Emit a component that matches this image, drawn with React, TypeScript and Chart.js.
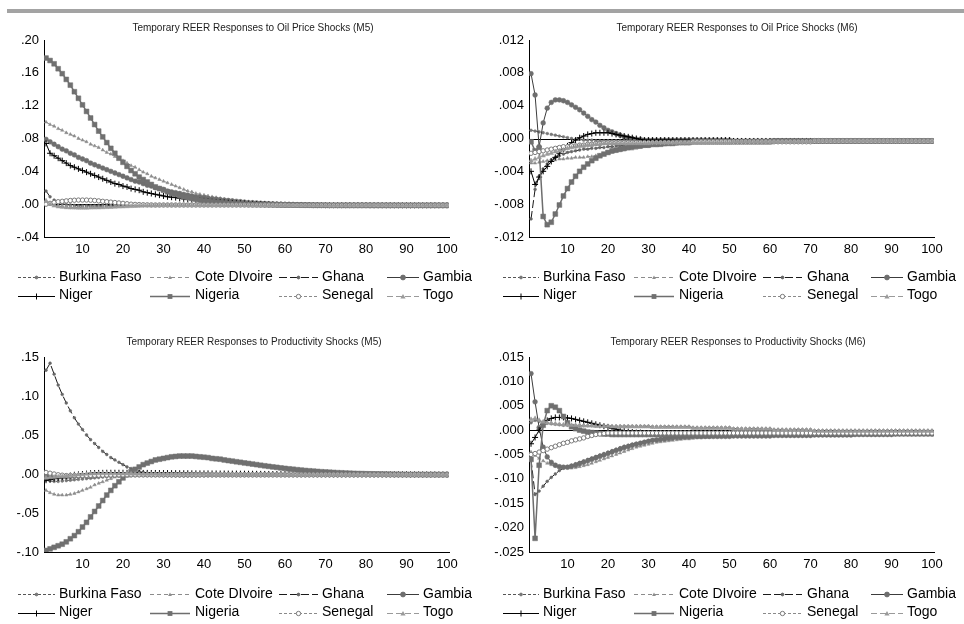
import React, { useEffect, useRef } from 'react';
import { Chart, registerables } from 'chart.js';

Chart.register(...registerables);

const FONT = 'Arial, "Liberation Sans", Helvetica, sans-serif';

const SERIES_NAMES = ['Burkina Faso', 'Cote DIvoire', 'Ghana', 'Gambia', 'Niger', 'Nigeria', 'Senegal', 'Togo'];
const X_TICKS = [10, 20, 30, 40, 50, 60, 70, 80, 90, 100];
const Y_TICKS_OIL_M5 = [-0.04, 0, 0.04, 0.08, 0.12, 0.16, 0.2];
const Y_TICKS_OIL_M6 = [-0.012, -0.008, -0.004, 0, 0.004, 0.008, 0.012];
const Y_TICKS_PROD_M5 = [-0.1, -0.05, 0, 0.05, 0.1, 0.15];
const Y_TICKS_PROD_M6 = [-0.025, -0.02, -0.015, -0.01, -0.005, 0, 0.005, 0.01, 0.015];

// ---------- Oil price shocks (M5) ----------
const OIL_M5_BURKINA = [
  .003, .001, -.001, -.002, -.003, -.0035, -.004, -.004, -.004, -.004,
  -.004, -.0038, -.0036, -.0034, -.0032, -.003, -.0028, -.0026, -.0024, -.0022,
  -.002, -.0019, -.0018, -.0017, -.0016, -.0015, -.0015, -.0014, -.0014, -.0014,
  -.0014, -.0014, -.0014, -.0014, -.0014, -.0014, -.0014, -.0014, -.0014, -.0014,
  -.0014, -.0014, -.0014, -.0014, -.0014, -.0014, -.0014, -.0014, -.0014, -.0014,
  -.0014, -.0014, -.0014, -.0014, -.0014, -.0014, -.0014, -.0014, -.0014, -.0014,
  -.0014, -.0014, -.0014, -.0014, -.0014, -.0014, -.0014, -.0014, -.0014, -.0014,
  -.0014, -.0014, -.0014, -.0014, -.0014, -.0014, -.0014, -.0014, -.0014, -.0014,
  -.0014, -.0014, -.0014, -.0014, -.0014, -.0014, -.0014, -.0014, -.0014, -.0014,
  -.0014, -.0014, -.0014, -.0014, -.0014, -.0014, -.0014, -.0014, -.0014, -.0014,
];
const OIL_M5_COTE = [
  .100, .097, .095, .092, .090, .087, .085, .083, .080, .078,
  .076, .073, .071, .069, .066, .063, .061, .058, .055, .053,
  .050, .047, .045, .042, .039, .037, .034, .032, .030, .028,
  .026, .024, .022, .020, .018, .016, .015, .013, .012, .011,
  .010, .009, .008, .007, .006, .005, .0045, .004, .0035, .003,
  .0025, .002, .0016, .0012, .0008, .0005, .0002, 0, -.0002, -.0004,
  -.0005, -.0006, -.0007, -.0008, -.0009, -.001, -.001, -.0011, -.0011, -.0012,
  -.0012, -.0012, -.0012, -.0012, -.0012, -.0013, -.0013, -.0013, -.0013, -.0013,
  -.0013, -.0013, -.0013, -.0013, -.0013, -.0014, -.0014, -.0014, -.0014, -.0014,
  -.0014, -.0014, -.0014, -.0014, -.0014, -.0014, -.0014, -.0014, -.0014, -.0014,
];
const OIL_M5_GHANA = [
  .016, .009, .005, .002, .0005, -.0005, -.001, -.0015, -.002, -.002,
  -.002, -.002, -.002, -.0019, -.0018, -.0017, -.0016, -.0015, -.0014, -.0013,
  -.0012, -.0011, -.001, -.001, -.0009, -.0009, -.0008, -.0008, -.0008, -.0008,
  -.0008, -.0008, -.0008, -.0008, -.0008, -.0008, -.0008, -.0008, -.0008, -.0008,
  -.0009, -.0009, -.0009, -.0009, -.0009, -.0009, -.0009, -.0009, -.0009, -.0009,
  -.001, -.001, -.001, -.001, -.001, -.001, -.001, -.001, -.001, -.001,
  -.0011, -.0011, -.0011, -.0011, -.0011, -.0011, -.0011, -.0011, -.0011, -.0011,
  -.0012, -.0012, -.0012, -.0012, -.0012, -.0012, -.0012, -.0012, -.0012, -.0012,
  -.0013, -.0013, -.0013, -.0013, -.0013, -.0013, -.0013, -.0013, -.0013, -.0013,
  -.0014, -.0014, -.0014, -.0014, -.0014, -.0014, -.0014, -.0014, -.0014, -.0014,
];
const OIL_M5_GAMBIA = [
  .079, .076, .073, .070, .067, .065, .062, .060, .057, .055,
  .053, .050, .048, .046, .044, .042, .040, .038, .036, .034,
  .032, .030, .028, .027, .025, .023, .022, .020, .019, .018,
  .016, .015, .014, .013, .012, .011, .010, .009, .0085, .008,
  .007, .0065, .006, .0055, .005, .0045, .004, .0035, .003, .0025,
  .002, .0017, .0014, .0011, .0008, .0005, .0003, .0001, -.0001, -.0003,
  -.0004, -.0005, -.0006, -.0007, -.0008, -.0009, -.001, -.001, -.0011, -.0011,
  -.0012, -.0012, -.0012, -.0012, -.0012, -.0012, -.0012, -.0012, -.0012, -.0012,
  -.0013, -.0013, -.0013, -.0013, -.0013, -.0013, -.0013, -.0013, -.0013, -.0013,
  -.0014, -.0014, -.0014, -.0014, -.0014, -.0014, -.0014, -.0014, -.0014, -.0014,
];
const OIL_M5_NIGER = [
  .074, .062, .059, .056, .053, .050, .047, .045, .043, .041,
  .039, .037, .035, .033, .031, .029, .027, .025, .024, .022,
  .021, .019, .018, .017, .015, .014, .013, .012, .011, .010,
  .009, .0085, .008, .007, .0065, .006, .0055, .005, .0045, .004,
  .0035, .003, .0027, .0024, .0021, .0018, .0015, .0012, .001, .0008,
  .0006, .0004, .0002, 0, -.0002, -.0003, -.0004, -.0005, -.0006, -.0007,
  -.0008, -.0009, -.001, -.001, -.0011, -.0011, -.0012, -.0012, -.0012, -.0013,
  -.0013, -.0013, -.0013, -.0013, -.0013, -.0013, -.0013, -.0013, -.0013, -.0013,
  -.0014, -.0014, -.0014, -.0014, -.0014, -.0014, -.0014, -.0014, -.0014, -.0014,
  -.0014, -.0014, -.0014, -.0014, -.0014, -.0014, -.0014, -.0014, -.0014, -.0014,
];
const OIL_M5_NIGERIA = [
  .178, .175, .171, .165, .159, .152, .145, .137, .129, .121,
  .113, .105, .097, .089, .082, .075, .068, .062, .056, .051,
  .046, .041, .037, .033, .030, .027, .024, .021, .019, .017,
  .015, .013, .012, .010, .009, .008, .007, .006, .005, .004,
  .0035, .003, .0025, .002, .0015, .001, .0008, .0005, .0003, .0001,
  0, -.0002, -.0003, -.0004, -.0005, -.0006, -.0007, -.0008, -.0009, -.001,
  -.001, -.0011, -.0011, -.0012, -.0012, -.0012, -.0013, -.0013, -.0013, -.0013,
  -.0014, -.0014, -.0014, -.0014, -.0014, -.0014, -.0014, -.0014, -.0014, -.0014,
  -.0014, -.0014, -.0014, -.0014, -.0014, -.0014, -.0014, -.0014, -.0014, -.0014,
  -.0014, -.0014, -.0014, -.0014, -.0014, -.0014, -.0014, -.0014, -.0014, -.0014,
];
const OIL_M5_SENEGAL = [
  0, .001, .002, .003, .0035, .004, .0045, .0048, .005, .005,
  .005, .0048, .0045, .004, .0035, .003, .0025, .002, .0015, .001,
  .0005, 0, -.0003, -.0005, -.0007, -.0008, -.0009, -.001, -.001, -.001,
  -.001, -.001, -.001, -.001, -.001, -.001, -.001, -.001, -.001, -.001,
  -.001, -.001, -.001, -.001, -.001, -.001, -.001, -.001, -.001, -.001,
  -.0011, -.0011, -.0011, -.0011, -.0011, -.0011, -.0011, -.0011, -.0011, -.0011,
  -.0012, -.0012, -.0012, -.0012, -.0012, -.0012, -.0012, -.0012, -.0012, -.0012,
  -.0013, -.0013, -.0013, -.0013, -.0013, -.0013, -.0013, -.0013, -.0013, -.0013,
  -.0014, -.0014, -.0014, -.0014, -.0014, -.0014, -.0014, -.0014, -.0014, -.0014,
  -.0014, -.0014, -.0014, -.0014, -.0014, -.0014, -.0014, -.0014, -.0014, -.0014,
];
const OIL_M5_TOGO = [
  .004, 0, -.002, -.003, -.0035, -.004, -.0042, -.0044, -.0045, -.0045,
  -.0045, -.0044, -.0043, -.0042, -.004, -.0038, -.0036, -.0034, -.0032, -.003,
  -.0028, -.0026, -.0024, -.0022, -.002, -.0019, -.0018, -.0017, -.0016, -.0015,
  -.0015, -.0015, -.0015, -.0015, -.0015, -.0015, -.0015, -.0015, -.0015, -.0015,
  -.0015, -.0015, -.0015, -.0015, -.0015, -.0015, -.0015, -.0015, -.0015, -.0015,
  -.0015, -.0015, -.0015, -.0015, -.0015, -.0015, -.0015, -.0015, -.0015, -.0015,
  -.0015, -.0015, -.0015, -.0015, -.0015, -.0015, -.0015, -.0015, -.0015, -.0015,
  -.0015, -.0015, -.0015, -.0015, -.0015, -.0015, -.0015, -.0015, -.0015, -.0015,
  -.0015, -.0015, -.0015, -.0015, -.0015, -.0015, -.0015, -.0015, -.0015, -.0015,
  -.0015, -.0015, -.0015, -.0015, -.0015, -.0015, -.0015, -.0015, -.0015, -.0015,
];

// ---------- Oil price shocks (M6) ----------
const OIL_M6_BURKINA = [
  .0010, .0009, .0008, .0007, .0006, .0005, .0004, .0003, .0002, .0001,
  0, -.0001, -.0001, -.0002, -.0002, -.0002, -.0003, -.0003, -.0003, -.0003,
  -.0003, -.0003, -.0003, -.0003, -.0003, -.0003, -.0003, -.0003, -.0003, -.0003,
  -.0003, -.0003, -.0003, -.0003, -.0003, -.0003, -.0003, -.0003, -.0003, -.0003,
  -.0003, -.0003, -.0003, -.0003, -.0003, -.0003, -.0003, -.0003, -.0003, -.0003,
  -.0003, -.0003, -.0003, -.0003, -.0003, -.0003, -.0003, -.0003, -.0003, -.0003,
  -.0003, -.0003, -.0003, -.0003, -.0003, -.0003, -.0003, -.0003, -.0003, -.0003,
  -.0003, -.0003, -.0003, -.0003, -.0003, -.0003, -.0003, -.0003, -.0003, -.0003,
  -.0003, -.0003, -.0003, -.0003, -.0003, -.0003, -.0003, -.0003, -.0003, -.0003,
  -.0003, -.0003, -.0003, -.0003, -.0003, -.0003, -.0003, -.0003, -.0003, -.0003,
];
const OIL_M6_COTE = [
  -.0030, -.0030, -.0029, -.0028, -.0027, -.0026, -.0026, -.0025, -.0025, -.0024,
  -.0024, -.0023, -.0023, -.0023, -.0022, -.0022, -.0021, -.0020, -.0019, -.0018,
  -.0017, -.0016, -.0015, -.0014, -.0013, -.0013, -.0012, -.0011, -.0010, -.0010,
  -.0009, -.0009, -.0008, -.0008, -.0007, -.0007, -.0007, -.0006, -.0006, -.0006,
  -.0005, -.0005, -.0005, -.0005, -.0005, -.0005, -.0005, -.0005, -.0005, -.0005,
  -.0005, -.0005, -.0005, -.0005, -.0005, -.0005, -.0005, -.0005, -.0005, -.0005,
  -.0004, -.0004, -.0004, -.0004, -.0004, -.0004, -.0004, -.0004, -.0004, -.0004,
  -.0004, -.0004, -.0004, -.0004, -.0004, -.0004, -.0004, -.0004, -.0004, -.0004,
  -.0003, -.0003, -.0003, -.0003, -.0003, -.0003, -.0003, -.0003, -.0003, -.0003,
  -.0003, -.0003, -.0003, -.0003, -.0003, -.0003, -.0003, -.0003, -.0003, -.0003,
];
const OIL_M6_GHANA = [
  -.0098, -.0062, -.0046, -.0037, -.0031, -.0026, -.0023, -.0021, -.0019, -.0017,
  -.0016, -.0015, -.0014, -.0013, -.0013, -.0012, -.0012, -.0011, -.0011, -.0010,
  -.0010, -.0009, -.0009, -.0008, -.0008, -.0008, -.0007, -.0007, -.0007, -.0006,
  -.0006, -.0006, -.0006, -.0006, -.0006, -.0006, -.0006, -.0006, -.0006, -.0006,
  -.0005, -.0005, -.0005, -.0005, -.0005, -.0005, -.0005, -.0005, -.0005, -.0005,
  -.0004, -.0004, -.0004, -.0004, -.0004, -.0004, -.0004, -.0004, -.0004, -.0004,
  -.0004, -.0004, -.0004, -.0004, -.0004, -.0004, -.0004, -.0004, -.0004, -.0004,
  -.0003, -.0003, -.0003, -.0003, -.0003, -.0003, -.0003, -.0003, -.0003, -.0003,
  -.0003, -.0003, -.0003, -.0003, -.0003, -.0003, -.0003, -.0003, -.0003, -.0003,
  -.0003, -.0003, -.0003, -.0003, -.0003, -.0003, -.0003, -.0003, -.0003, -.0003,
];
const OIL_M6_GAMBIA = [
  .0079, .0053, -.0010, .0019, .0037, .0044, .0047, .0047, .0046, .0044,
  .0041, .0038, .0035, .0031, .0027, .0023, .0020, .0016, .0013, .0010,
  .0008, .0006, .0004, .0002, .0001, 0, -.0001, -.0001, -.0002, -.0002,
  -.0002, -.0002, -.0002, -.0002, -.0002, -.0002, -.0002, -.0002, -.0002, -.0002,
  -.0002, -.0002, -.0002, -.0002, -.0002, -.0002, -.0002, -.0002, -.0002, -.0002,
  -.0003, -.0003, -.0003, -.0003, -.0003, -.0003, -.0003, -.0003, -.0003, -.0003,
  -.0003, -.0003, -.0003, -.0003, -.0003, -.0003, -.0003, -.0003, -.0003, -.0003,
  -.0003, -.0003, -.0003, -.0003, -.0003, -.0003, -.0003, -.0003, -.0003, -.0003,
  -.0003, -.0003, -.0003, -.0003, -.0003, -.0003, -.0003, -.0003, -.0003, -.0003,
  -.0003, -.0003, -.0003, -.0003, -.0003, -.0003, -.0003, -.0003, -.0003, -.0003,
];
const OIL_M6_NIGER = [
  -.0040, -.0056, -.0047, -.0040, -.0034, -.0028, -.0023, -.0018, -.0013, -.0009,
  -.0005, -.0002, .0001, .0003, .0005, .0006, .0007, .0007, .0007, .0007,
  .0006, .0005, .0004, .0003, .0002, .0001, 0, -.0001, -.0002, -.0002,
  -.0002, -.0002, -.0002, -.0002, -.0002, -.0002, -.0002, -.0002, -.0002, -.0002,
  -.0002, -.0002, -.0002, -.0002, -.0002, -.0002, -.0002, -.0002, -.0002, -.0002,
  -.0003, -.0003, -.0003, -.0003, -.0003, -.0003, -.0003, -.0003, -.0003, -.0003,
  -.0003, -.0003, -.0003, -.0003, -.0003, -.0003, -.0003, -.0003, -.0003, -.0003,
  -.0003, -.0003, -.0003, -.0003, -.0003, -.0003, -.0003, -.0003, -.0003, -.0003,
  -.0003, -.0003, -.0003, -.0003, -.0003, -.0003, -.0003, -.0003, -.0003, -.0003,
  -.0003, -.0003, -.0003, -.0003, -.0003, -.0003, -.0003, -.0003, -.0003, -.0003,
];
const OIL_M6_NIGERIA = [
  -.0004, -.0015, -.0012, -.0095, -.0105, -.0102, -.0092, -.0081, -.0070, -.0061,
  -.0053, -.0046, -.0040, -.0035, -.0031, -.0027, -.0024, -.0021, -.0019, -.0017,
  -.0015, -.0014, -.0013, -.0012, -.0011, -.0010, -.0009, -.0009, -.0008, -.0008,
  -.0007, -.0007, -.0007, -.0006, -.0006, -.0006, -.0005, -.0005, -.0005, -.0005,
  -.0004, -.0004, -.0004, -.0004, -.0004, -.0004, -.0004, -.0004, -.0004, -.0004,
  -.0004, -.0004, -.0004, -.0004, -.0004, -.0004, -.0004, -.0004, -.0004, -.0004,
  -.0003, -.0003, -.0003, -.0003, -.0003, -.0003, -.0003, -.0003, -.0003, -.0003,
  -.0003, -.0003, -.0003, -.0003, -.0003, -.0003, -.0003, -.0003, -.0003, -.0003,
  -.0003, -.0003, -.0003, -.0003, -.0003, -.0003, -.0003, -.0003, -.0003, -.0003,
  -.0003, -.0003, -.0003, -.0003, -.0003, -.0003, -.0003, -.0003, -.0003, -.0003,
];
const OIL_M6_SENEGAL = [
  -.0018, -.0017, -.0016, -.0015, -.0014, -.0013, -.0012, -.0011, -.0010, -.0010,
  -.0009, -.0009, -.0008, -.0008, -.0007, -.0007, -.0006, -.0006, -.0005, -.0005,
  -.0005, -.0005, -.0005, -.0005, -.0005, -.0005, -.0005, -.0005, -.0005, -.0005,
  -.0005, -.0005, -.0005, -.0005, -.0005, -.0005, -.0005, -.0005, -.0005, -.0005,
  -.0004, -.0004, -.0004, -.0004, -.0004, -.0004, -.0004, -.0004, -.0004, -.0004,
  -.0004, -.0004, -.0004, -.0004, -.0004, -.0004, -.0004, -.0004, -.0004, -.0004,
  -.0004, -.0004, -.0004, -.0004, -.0004, -.0004, -.0004, -.0004, -.0004, -.0004,
  -.0003, -.0003, -.0003, -.0003, -.0003, -.0003, -.0003, -.0003, -.0003, -.0003,
  -.0003, -.0003, -.0003, -.0003, -.0003, -.0003, -.0003, -.0003, -.0003, -.0003,
  -.0003, -.0003, -.0003, -.0003, -.0003, -.0003, -.0003, -.0003, -.0003, -.0003,
];
const OIL_M6_TOGO = [
  -.0027, -.0025, -.0023, -.0021, -.0019, -.0018, -.0016, -.0015, -.0014, -.0012,
  -.0011, -.0010, -.0009, -.0009, -.0008, -.0008, -.0007, -.0007, -.0006, -.0006,
  -.0006, -.0006, -.0006, -.0006, -.0006, -.0006, -.0006, -.0006, -.0006, -.0006,
  -.0005, -.0005, -.0005, -.0005, -.0005, -.0005, -.0005, -.0005, -.0005, -.0005,
  -.0005, -.0005, -.0005, -.0005, -.0005, -.0005, -.0005, -.0005, -.0005, -.0005,
  -.0004, -.0004, -.0004, -.0004, -.0004, -.0004, -.0004, -.0004, -.0004, -.0004,
  -.0004, -.0004, -.0004, -.0004, -.0004, -.0004, -.0004, -.0004, -.0004, -.0004,
  -.0003, -.0003, -.0003, -.0003, -.0003, -.0003, -.0003, -.0003, -.0003, -.0003,
  -.0003, -.0003, -.0003, -.0003, -.0003, -.0003, -.0003, -.0003, -.0003, -.0003,
  -.0003, -.0003, -.0003, -.0003, -.0003, -.0003, -.0003, -.0003, -.0003, -.0003,
];

// ---------- Productivity shocks (M5) ----------
const PROD_M5_BURKINA = [
  -.008, -.009, -.0095, -.0095, -.009, -.0085, -.008, -.0075, -.007, -.0065,
  -.006, -.0055, -.005, -.0045, -.004, -.0035, -.003, -.0026, -.0022, -.0019,
  -.0016, -.0014, -.0012, -.0011, -.001, -.001, -.001, -.001, -.001, -.001,
  -.001, -.001, -.001, -.001, -.001, -.001, -.001, -.001, -.001, -.001,
  -.001, -.001, -.001, -.001, -.001, -.001, -.001, -.001, -.001, -.001,
  -.001, -.001, -.001, -.001, -.001, -.001, -.001, -.001, -.001, -.001,
  -.001, -.001, -.001, -.001, -.001, -.001, -.001, -.001, -.001, -.001,
  -.001, -.001, -.001, -.001, -.001, -.001, -.001, -.001, -.001, -.001,
  -.001, -.001, -.001, -.001, -.001, -.001, -.001, -.001, -.001, -.001,
  -.001, -.001, -.001, -.001, -.001, -.001, -.001, -.001, -.001, -.001,
];
const PROD_M5_COTE = [
  -.021, -.024, -.026, -.027, -.027, -.027, -.026, -.025, -.023, -.021,
  -.019, -.017, -.014, -.012, -.010, -.008, -.006, -.004, -.003, -.002,
  -.001, -.0005, 0, 0, 0, -.0002, -.0004, -.0006, -.0008, -.001,
  -.001, -.001, -.001, -.001, -.001, -.001, -.001, -.001, -.001, -.001,
  -.001, -.001, -.001, -.001, -.001, -.001, -.001, -.001, -.001, -.001,
  -.001, -.001, -.001, -.001, -.001, -.001, -.001, -.001, -.001, -.001,
  -.001, -.001, -.001, -.001, -.001, -.001, -.001, -.001, -.001, -.001,
  -.001, -.001, -.001, -.001, -.001, -.001, -.001, -.001, -.001, -.001,
  -.001, -.001, -.001, -.001, -.001, -.001, -.001, -.001, -.001, -.001,
  -.001, -.001, -.001, -.001, -.001, -.001, -.001, -.001, -.001, -.001,
];
const PROD_M5_GHANA = [
  .133, .142, .128, .114, .102, .091, .081, .072, .064, .057,
  .050, .044, .039, .034, .029, .025, .021, .018, .015, .012,
  .009, .007, .005, .003, .002, .001, 0, -.001, -.0015, -.002,
  -.002, -.0022, -.0024, -.0025, -.0025, -.0025, -.0025, -.0024, -.0023, -.0022,
  -.0021, -.002, -.002, -.0019, -.0018, -.0018, -.0017, -.0016, -.0016, -.0015,
  -.0015, -.0015, -.0015, -.0015, -.0015, -.0015, -.0015, -.0015, -.0015, -.0015,
  -.0014, -.0014, -.0014, -.0014, -.0014, -.0014, -.0014, -.0014, -.0014, -.0014,
  -.0013, -.0013, -.0013, -.0013, -.0013, -.0013, -.0013, -.0013, -.0013, -.0013,
  -.0012, -.0012, -.0012, -.0012, -.0012, -.0012, -.0012, -.0012, -.0012, -.0012,
  -.0011, -.0011, -.0011, -.0011, -.0011, -.0011, -.0011, -.0011, -.0011, -.0011,
];
const PROD_M5_GAMBIA = [
  -.003, -.0035, -.004, -.004, -.0038, -.0035, -.0032, -.003, -.0027, -.0025,
  -.0023, -.0021, -.0019, -.0017, -.0015, -.0014, -.0013, -.0012, -.0011, -.001,
  -.001, -.001, -.001, -.001, -.001, -.001, -.001, -.001, -.001, -.001,
  -.001, -.001, -.001, -.001, -.001, -.001, -.001, -.001, -.001, -.001,
  -.001, -.001, -.001, -.001, -.001, -.001, -.001, -.001, -.001, -.001,
  -.001, -.001, -.001, -.001, -.001, -.001, -.001, -.001, -.001, -.001,
  -.001, -.001, -.001, -.001, -.001, -.001, -.001, -.001, -.001, -.001,
  -.001, -.001, -.001, -.001, -.001, -.001, -.001, -.001, -.001, -.001,
  -.001, -.001, -.001, -.001, -.001, -.001, -.001, -.001, -.001, -.001,
  -.001, -.001, -.001, -.001, -.001, -.001, -.001, -.001, -.001, -.001,
];
const PROD_M5_NIGER = [
  -.008, -.007, -.006, -.005, -.004, -.003, -.002, -.001, -.0005, 0,
  .0005, .001, .0012, .0014, .0015, .0016, .0016, .0016, .0016, .0016,
  .0015, .0015, .0015, .0014, .0014, .0014, .0013, .0013, .0012, .0012,
  .0012, .0011, .0011, .001, .001, .001, .0009, .0009, .0008, .0008,
  .0008, .0007, .0007, .0006, .0006, .0005, .0005, .0005, .0004, .0004,
  .0003, .0003, .0002, .0002, .0001, .0001, 0, 0, -.0001, -.0001,
  -.0002, -.0002, -.0002, -.0002, -.0002, -.0002, -.0002, -.0002, -.0002, -.0002,
  -.0003, -.0003, -.0003, -.0003, -.0003, -.0003, -.0003, -.0003, -.0003, -.0003,
  -.0004, -.0004, -.0004, -.0004, -.0004, -.0004, -.0004, -.0004, -.0004, -.0004,
  -.0005, -.0005, -.0005, -.0005, -.0005, -.0005, -.0005, -.0005, -.0005, -.0005,
];
const PROD_M5_NIGERIA = [
  -.098, -.096, -.094, -.092, -.090, -.087, -.083, -.079, -.074, -.068,
  -.062, -.055, -.048, -.041, -.034, -.027, -.021, -.015, -.010, -.005,
  -.001, .003, .006, .009, .012, .014, .016, .018, .019, .020,
  .021, .022, .0225, .023, .023, .023, .023, .0225, .022, .0215,
  .021, .020, .0195, .019, .018, .0172, .0165, .0157, .015, .0142,
  .0135, .0127, .012, .0112, .0105, .0098, .0091, .0085, .0078, .0072,
  .0066, .0061, .0055, .005, .0045, .0041, .0037, .0033, .0029, .0026,
  .0023, .002, .0017, .0015, .0012, .001, .0008, .0006, .0005, .0003,
  .0002, .0001, 0, -.0001, -.0002, -.0003, -.0004, -.0004, -.0005, -.0005,
  -.0006, -.0006, -.0006, -.0007, -.0007, -.0007, -.0007, -.0008, -.0008, -.0008,
];
const PROD_M5_SENEGAL = [
  .002, .001, 0, -.001, -.0015, -.002, -.002, -.002, -.002, -.0019,
  -.0018, -.0017, -.0016, -.0015, -.0014, -.0013, -.0012, -.0012, -.0011, -.0011,
  -.001, -.001, -.001, -.001, -.001, -.001, -.001, -.001, -.001, -.001,
  -.001, -.001, -.001, -.001, -.001, -.001, -.001, -.001, -.001, -.001,
  -.001, -.001, -.001, -.001, -.001, -.001, -.001, -.001, -.001, -.001,
  -.001, -.001, -.001, -.001, -.001, -.001, -.001, -.001, -.001, -.001,
  -.001, -.001, -.001, -.001, -.001, -.001, -.001, -.001, -.001, -.001,
  -.001, -.001, -.001, -.001, -.001, -.001, -.001, -.001, -.001, -.001,
  -.001, -.001, -.001, -.001, -.001, -.001, -.001, -.001, -.001, -.001,
  -.001, -.001, -.001, -.001, -.001, -.001, -.001, -.001, -.001, -.001,
];
const PROD_M5_TOGO = [
  -.005, -.0045, -.004, -.0035, -.003, -.0025, -.002, -.0015, -.001, -.0005,
  0, .0003, .0005, .0006, .0007, .0007, .0007, .0006, .0005, .0004,
  .0003, .0002, .0001, 0, -.0001, -.0002, -.0003, -.0004, -.0005, -.0006,
  -.0007, -.0007, -.0007, -.0007, -.0007, -.0007, -.0007, -.0007, -.0007, -.0007,
  -.0008, -.0008, -.0008, -.0008, -.0008, -.0008, -.0008, -.0008, -.0008, -.0008,
  -.0009, -.0009, -.0009, -.0009, -.0009, -.0009, -.0009, -.0009, -.0009, -.0009,
  -.001, -.001, -.001, -.001, -.001, -.001, -.001, -.001, -.001, -.001,
  -.001, -.001, -.001, -.001, -.001, -.001, -.001, -.001, -.001, -.001,
  -.001, -.001, -.001, -.001, -.001, -.001, -.001, -.001, -.001, -.001,
  -.001, -.001, -.001, -.001, -.001, -.001, -.001, -.001, -.001, -.001,
];

// ---------- Productivity shocks (M6) ----------
const PROD_M6_BURKINA = [
  .0015, .0020, .0018, .0016, .0014, .0013, .0012, .0011, .0010, .0010,
  .0009, .0009, .0009, .0009, .0009, .0009, .0009, .0009, .0009, .0009,
  .0008, .0008, .0008, .0008, .0008, .0008, .0008, .0008, .0008, .0008,
  .0007, .0007, .0007, .0007, .0007, .0007, .0007, .0007, .0007, .0007,
  .0005, .0005, .0005, .0005, .0005, .0005, .0005, .0005, .0005, .0005,
  .0003, .0003, .0003, .0003, .0003, .0003, .0003, .0003, .0003, .0003,
  .0001, .0001, .0001, .0001, .0001, .0001, .0001, .0001, .0001, .0001,
  -.0001, -.0001, -.0001, -.0001, -.0001, -.0001, -.0001, -.0001, -.0001, -.0001,
  -.0001, -.0001, -.0001, -.0001, -.0001, -.0001, -.0001, -.0001, -.0001, -.0001,
  -.0001, -.0001, -.0001, -.0001, -.0001, -.0001, -.0001, -.0001, -.0001, -.0001,
];
const PROD_M6_COTE = [
  -.0045, -.0052, -.0058, -.0063, -.0068, -.0071, -.0074, -.0076, -.0077, -.0078,
  -.0078, -.0077, -.0075, -.0073, -.0071, -.0068, -.0065, -.0062, -.0059, -.0056,
  -.0053, -.0050, -.0047, -.0044, -.0041, -.0038, -.0035, -.0033, -.0031, -.0029,
  -.0027, -.0025, -.0024, -.0023, -.0022, -.0021, -.0020, -.0019, -.0018, -.0018,
  -.0017, -.0016, -.0016, -.0015, -.0015, -.0014, -.0014, -.0013, -.0013, -.0013,
  -.0012, -.0012, -.0012, -.0012, -.0012, -.0012, -.0012, -.0012, -.0012, -.0012,
  -.0011, -.0011, -.0011, -.0011, -.0011, -.0011, -.0011, -.0011, -.0011, -.0011,
  -.001, -.001, -.001, -.001, -.001, -.001, -.001, -.001, -.001, -.001,
  -.0009, -.0009, -.0009, -.0009, -.0009, -.0009, -.0009, -.0009, -.0009, -.0009,
  -.0008, -.0008, -.0008, -.0008, -.0008, -.0008, -.0008, -.0008, -.0008, -.0008,
];
const PROD_M6_GHANA = [
  -.0060, -.0132, -.0125, -.0115, -.0105, -.0097, -.0090, -.0083, -.0078, -.0075,
  -.0072, -.0069, -.0066, -.0063, -.0060, -.0057, -.0054, -.0051, -.0048, -.0045,
  -.0042, -.0039, -.0036, -.0033, -.0031, -.0029, -.0027, -.0025, -.0023, -.0021,
  -.0020, -.0019, -.0018, -.0017, -.0016, -.0015, -.0015, -.0014, -.0014, -.0013,
  -.0013, -.0013, -.0013, -.0013, -.0013, -.0013, -.0013, -.0013, -.0013, -.0013,
  -.0012, -.0012, -.0012, -.0012, -.0012, -.0012, -.0012, -.0012, -.0012, -.0012,
  -.0011, -.0011, -.0011, -.0011, -.0011, -.0011, -.0011, -.0011, -.0011, -.0011,
  -.001, -.001, -.001, -.001, -.001, -.001, -.001, -.001, -.001, -.001,
  -.0009, -.0009, -.0009, -.0009, -.0009, -.0009, -.0009, -.0009, -.0009, -.0009,
  -.0008, -.0008, -.0008, -.0008, -.0008, -.0008, -.0008, -.0008, -.0008, -.0008,
];
const PROD_M6_GAMBIA = [
  .0116, .0058, .0005, -.0035, -.0055, -.0066, -.0072, -.0075, -.0076, -.0076,
  -.0074, -.0072, -.0069, -.0066, -.0063, -.0060, -.0057, -.0054, -.0051, -.0048,
  -.0045, -.0042, -.0039, -.0036, -.0034, -.0031, -.0029, -.0027, -.0025, -.0023,
  -.0021, -.0020, -.0019, -.0018, -.0017, -.0016, -.0015, -.0015, -.0014, -.0014,
  -.0013, -.0013, -.0013, -.0013, -.0013, -.0013, -.0013, -.0013, -.0013, -.0013,
  -.0012, -.0012, -.0012, -.0012, -.0012, -.0012, -.0012, -.0012, -.0012, -.0012,
  -.0011, -.0011, -.0011, -.0011, -.0011, -.0011, -.0011, -.0011, -.0011, -.0011,
  -.001, -.001, -.001, -.001, -.001, -.001, -.001, -.001, -.001, -.001,
  -.0009, -.0009, -.0009, -.0009, -.0009, -.0009, -.0009, -.0009, -.0009, -.0009,
  -.0008, -.0008, -.0008, -.0008, -.0008, -.0008, -.0008, -.0008, -.0008, -.0008,
];
const PROD_M6_NIGER = [
  -.0028, -.0015, 0, .0012, .0020, .0024, .0026, .0026, .0026, .0025,
  .0024, .0022, .0020, .0018, .0016, .0014, .0012, .0010, .0008, .0006,
  .0004, .0002, 0, -.0002, -.0003, -.0004, -.0005, -.0005, -.0006, -.0006,
  -.0006, -.0006, -.0006, -.0006, -.0006, -.0006, -.0006, -.0006, -.0006, -.0006,
  -.0006, -.0006, -.0006, -.0006, -.0006, -.0006, -.0006, -.0006, -.0006, -.0006,
  -.0006, -.0006, -.0006, -.0006, -.0006, -.0006, -.0006, -.0006, -.0006, -.0006,
  -.0006, -.0006, -.0006, -.0006, -.0006, -.0006, -.0006, -.0006, -.0006, -.0006,
  -.0006, -.0006, -.0006, -.0006, -.0006, -.0006, -.0006, -.0006, -.0006, -.0006,
  -.0006, -.0006, -.0006, -.0006, -.0006, -.0006, -.0006, -.0006, -.0006, -.0006,
  -.0006, -.0006, -.0006, -.0006, -.0006, -.0006, -.0006, -.0006, -.0006, -.0006,
];
const PROD_M6_NIGERIA = [
  -.0060, -.0222, -.0072, .0010, .0040, .0050, .0047, .0040, .0028, .0015,
  .0007, .0003, 0, -.0002, -.0004, -.0005, -.0006, -.0007, -.0008, -.0008,
  -.0009, -.0009, -.0009, -.0009, -.0009, -.0009, -.0009, -.0009, -.0009, -.0009,
  -.0009, -.0009, -.0009, -.0009, -.0009, -.0009, -.0009, -.0009, -.0009, -.0009,
  -.0009, -.0009, -.0009, -.0009, -.0009, -.0009, -.0009, -.0009, -.0009, -.0009,
  -.0008, -.0008, -.0008, -.0008, -.0008, -.0008, -.0008, -.0008, -.0008, -.0008,
  -.0008, -.0008, -.0008, -.0008, -.0008, -.0008, -.0008, -.0008, -.0008, -.0008,
  -.0008, -.0008, -.0008, -.0008, -.0008, -.0008, -.0008, -.0008, -.0008, -.0008,
  -.0007, -.0007, -.0007, -.0007, -.0007, -.0007, -.0007, -.0007, -.0007, -.0007,
  -.0007, -.0007, -.0007, -.0007, -.0007, -.0007, -.0007, -.0007, -.0007, -.0007,
];
const PROD_M6_SENEGAL = [
  -.0050, -.0048, -.0045, -.0042, -.0039, -.0036, -.0033, -.0030, -.0027, -.0025,
  -.0022, -.0020, -.0018, -.0016, -.0013, -.0011, -.0009, -.0008, -.0007, -.0006,
  -.0006, -.0006, -.0006, -.0006, -.0006, -.0006, -.0006, -.0006, -.0006, -.0006,
  -.0006, -.0006, -.0006, -.0006, -.0006, -.0006, -.0006, -.0006, -.0006, -.0006,
  -.0006, -.0006, -.0006, -.0006, -.0006, -.0006, -.0006, -.0006, -.0006, -.0006,
  -.0006, -.0006, -.0006, -.0006, -.0006, -.0006, -.0006, -.0006, -.0006, -.0006,
  -.0006, -.0006, -.0006, -.0006, -.0006, -.0006, -.0006, -.0006, -.0006, -.0006,
  -.0006, -.0006, -.0006, -.0006, -.0006, -.0006, -.0006, -.0006, -.0006, -.0006,
  -.0006, -.0006, -.0006, -.0006, -.0006, -.0006, -.0006, -.0006, -.0006, -.0006,
  -.0006, -.0006, -.0006, -.0006, -.0006, -.0006, -.0006, -.0006, -.0006, -.0006,
];
const PROD_M6_TOGO = [
  .0022, .0024, .0020, .0017, .0015, .0014, .0013, .0012, .0011, .0011,
  .0010, .0010, .0010, .0009, .0009, .0009, .0008, .0008, .0008, .0008,
  .0007, .0007, .0007, .0007, .0007, .0007, .0007, .0007, .0007, .0007,
  .0006, .0006, .0006, .0006, .0006, .0006, .0006, .0006, .0006, .0006,
  .0004, .0004, .0004, .0004, .0004, .0004, .0004, .0004, .0004, .0004,
  .0002, .0002, .0002, .0002, .0002, .0002, .0002, .0002, .0002, .0002,
  0, 0, 0, 0, 0, 0, 0, 0, 0, 0,
  -.0002, -.0002, -.0002, -.0002, -.0002, -.0002, -.0002, -.0002, -.0002, -.0002,
  -.0002, -.0002, -.0002, -.0002, -.0002, -.0002, -.0002, -.0002, -.0002, -.0002,
  -.0002, -.0002, -.0002, -.0002, -.0002, -.0002, -.0002, -.0002, -.0002, -.0002,
];

// ---------- styles ----------
type Style = { color: string; width: number; dash: number[]; point: string; r: number; fill: string; pborder: string };
const STYLES: Style[] = [
  { color: '#555555', width: 1, dash: [3, 2], point: 'circle', r: 1.4, fill: '#777777', pborder: '#777777' },
  { color: '#8c8c8c', width: 1, dash: [4, 3], point: 'triangle', r: 1.9, fill: '#8c8c8c', pborder: '#8c8c8c' },
  { color: '#1a1a1a', width: 1, dash: [8, 3], point: 'circle', r: 1.4, fill: '#666666', pborder: '#666666' },
  { color: '#3c3c3c', width: 1, dash: [], point: 'circle', r: 2.4, fill: '#6e6e6e', pborder: '#6e6e6e' },
  { color: '#000000', width: 1, dash: [], point: 'cross', r: 3, fill: '#000000', pborder: '#000000' },
  { color: '#6e6e6e', width: 1.5, dash: [], point: 'rect', r: 3.4, fill: '#707070', pborder: '#707070' },
  { color: '#8a8a8a', width: 1, dash: [3, 2], point: 'circle', r: 2.2, fill: '#ffffff', pborder: '#7a7a7a' },
  { color: '#9a9a9a', width: 1, dash: [6, 3], point: 'triangle', r: 2.6, fill: '#9a9a9a', pborder: '#9a9a9a' },
];

type PanelCfg = {
  title: string; titleX: number; titleY: number;
  series: number[][]; yMin: number; yMax: number; yTicks: number[]; dec: number;
  axisW: number; padRight: number; padTop: number; xH: number;
  legendX: number[]; legendY: number[]; sampleX: number[][];
};

function fmt(v: number, dec: number) {
  const s = Math.abs(v).toFixed(dec).replace(/^0/, '');
  return (v < -1e-12 ? '-' : '') + s;
}

function drawMarker(ctx: CanvasRenderingContext2D, st: Style, x: number, y: number) {
  ctx.save();
  ctx.setLineDash([]);
  ctx.fillStyle = st.fill;
  ctx.strokeStyle = st.pborder;
  ctx.lineWidth = 1;
  const r = st.r;
  ctx.beginPath();
  if (st.point === 'circle') {
    ctx.arc(x, y, r, 0, Math.PI * 2);
    ctx.fill();
    ctx.stroke();
  } else if (st.point === 'rect') {
    const s = r * Math.SQRT1_2;
    ctx.rect(x - s, y - s, 2 * s, 2 * s);
    ctx.fill();
  } else if (st.point === 'triangle') {
    ctx.moveTo(x, y - r);
    ctx.lineTo(x + r, y + r * 0.8);
    ctx.lineTo(x - r, y + r * 0.8);
    ctx.closePath();
    ctx.fill();
  } else if (st.point === 'cross') {
    ctx.moveTo(x - r, y);
    ctx.lineTo(x + r, y);
    ctx.moveTo(x, y - r);
    ctx.lineTo(x, y + r);
    ctx.stroke();
  }
  ctx.restore();
}

function buildConfig(cfg: PanelCfg): any {
  const decor = {
    id: 'panelDecor',
    beforeDatasetsDraw(chart: any) {
      const { ctx, chartArea, scales } = chart;
      const y0 = Math.round(scales.y.getPixelForValue(0)) + 0.5;
      ctx.save();
      ctx.strokeStyle = '#000';
      ctx.lineWidth = 1;
      ctx.beginPath();
      ctx.moveTo(chartArea.left, y0);
      ctx.lineTo(chartArea.right, y0);
      ctx.stroke();
      ctx.restore();
    },
    afterDraw(chart: any) {
      const ctx: CanvasRenderingContext2D = chart.ctx;
      ctx.save();
      ctx.font = `10px ${FONT}`;
      ctx.fillStyle = '#222';
      ctx.textAlign = 'center';
      ctx.textBaseline = 'middle';
      ctx.fillText(cfg.title, cfg.titleX, cfg.titleY);
      SERIES_NAMES.forEach((name, i) => {
        const row = Math.floor(i / 4);
        const col = i % 4;
        const st = STYLES[i];
        const y = cfg.legendY[row];
        const [sx0, sx1] = cfg.sampleX[col];
        ctx.save();
        ctx.strokeStyle = st.color;
        ctx.lineWidth = st.width;
        ctx.setLineDash(st.dash);
        ctx.beginPath();
        ctx.moveTo(sx0, Math.round(y) + 0.5);
        ctx.lineTo(sx1, Math.round(y) + 0.5);
        ctx.stroke();
        ctx.restore();
        drawMarker(ctx, st, (sx0 + sx1) / 2, Math.round(y) + 0.5);
        ctx.font = `14px ${FONT}`;
        ctx.fillStyle = '#000';
        ctx.textAlign = 'left';
        ctx.textBaseline = 'middle';
        ctx.fillText(name, cfg.legendX[col], y);
      });
      ctx.restore();
    },
  };

  return {
    type: 'line',
    data: {
      datasets: cfg.series.map((arr, i) => {
        const st = STYLES[i];
        return {
          label: SERIES_NAMES[i],
          data: arr.map((v, j) => ({ x: j + 1, y: v })),
          borderColor: st.color,
          borderWidth: st.width,
          borderDash: st.dash,
          pointStyle: st.point,
          pointRadius: st.r,
          pointBackgroundColor: st.fill,
          pointBorderColor: st.pborder,
          pointBorderWidth: st.point === 'cross' || st.fill === '#ffffff' ? 1 : 0.5,
          fill: false,
          tension: 0,
          order: 7 - i,
        };
      }),
    },
    options: {
      animation: false,
      responsive: false,
      devicePixelRatio: 1,
      events: [],
      layout: { padding: { left: 0, right: cfg.padRight, top: cfg.padTop, bottom: 0 } },
      plugins: { legend: { display: false }, tooltip: { enabled: false }, title: { display: false } },
      scales: {
        x: {
          type: 'linear',
          min: 0.5,
          max: 100.5,
          grid: { display: false, drawTicks: false },
          border: { display: true, color: '#000', width: 1 },
          ticks: { color: '#000', font: { family: FONT, size: 13 }, padding: 5, maxRotation: 0, autoSkip: false },
          afterBuildTicks: (axis: any) => { axis.ticks = X_TICKS.map((v) => ({ value: v })); },
          afterFit: (axis: any) => { axis.height = cfg.xH; },
        },
        y: {
          type: 'linear',
          min: cfg.yMin,
          max: cfg.yMax,
          grid: { display: false, drawTicks: false },
          border: { display: true, color: '#000', width: 1 },
          ticks: {
            color: '#000',
            font: { family: FONT, size: 13 },
            padding: 5,
            callback: (v: any) => fmt(Number(v), cfg.dec),
          },
          afterBuildTicks: (axis: any) => { axis.ticks = cfg.yTicks.map((v) => ({ value: v })); },
          afterFit: (axis: any) => { axis.width = cfg.axisW; },
        },
      },
    },
    plugins: [decor],
  };
}

const LEFT_LEGEND_X = [59, 195, 322, 423];
const RIGHT_LEGEND_X = [61, 197, 325, 425];
const LEFT_SAMPLE_X = [[18, 55], [150, 190], [279, 318], [387, 419]];
const RIGHT_SAMPLE_X = [[21, 57], [152, 192], [281, 320], [389, 421]];

const PANELS: { left: number; top: number; cfg: PanelCfg }[] = [
  {
    left: 0, top: 0,
    cfg: {
      title: 'Temporary REER Responses to Oil Price Shocks (M5)', titleX: 253, titleY: 28,
      series: [OIL_M5_BURKINA, OIL_M5_COTE, OIL_M5_GHANA, OIL_M5_GAMBIA, OIL_M5_NIGER, OIL_M5_NIGERIA, OIL_M5_SENEGAL, OIL_M5_TOGO],
      yMin: -0.04, yMax: 0.2, yTicks: Y_TICKS_OIL_M5, dec: 2,
      axisW: 44, padRight: 33, padTop: 40, xH: 75,
      legendX: LEFT_LEGEND_X, legendY: [277, 295.5], sampleX: LEFT_SAMPLE_X,
    },
  },
  {
    left: 482, top: 0,
    cfg: {
      title: 'Temporary REER Responses to Oil Price Shocks (M6)', titleX: 255, titleY: 28,
      series: [OIL_M6_BURKINA, OIL_M6_COTE, OIL_M6_GHANA, OIL_M6_GAMBIA, OIL_M6_NIGER, OIL_M6_NIGERIA, OIL_M6_SENEGAL, OIL_M6_TOGO],
      yMin: -0.012, yMax: 0.012, yTicks: Y_TICKS_OIL_M6, dec: 3,
      axisW: 47, padRight: 30, padTop: 40, xH: 75,
      legendX: RIGHT_LEGEND_X, legendY: [277, 295.5], sampleX: RIGHT_SAMPLE_X,
    },
  },
  {
    left: 0, top: 312,
    cfg: {
      title: 'Temporary REER Responses to Productivity Shocks (M5)', titleX: 254, titleY: 30,
      series: [PROD_M5_BURKINA, PROD_M5_COTE, PROD_M5_GHANA, PROD_M5_GAMBIA, PROD_M5_NIGER, PROD_M5_NIGERIA, PROD_M5_SENEGAL, PROD_M5_TOGO],
      yMin: -0.1, yMax: 0.15, yTicks: Y_TICKS_PROD_M5, dec: 2,
      axisW: 44, padRight: 33, padTop: 45, xH: 72,
      legendX: LEFT_LEGEND_X, legendY: [282, 300.5], sampleX: LEFT_SAMPLE_X,
    },
  },
  {
    left: 482, top: 312,
    cfg: {
      title: 'Temporary REER Responses to Productivity Shocks (M6)', titleX: 256, titleY: 30,
      series: [PROD_M6_BURKINA, PROD_M6_COTE, PROD_M6_GHANA, PROD_M6_GAMBIA, PROD_M6_NIGER, PROD_M6_NIGERIA, PROD_M6_SENEGAL, PROD_M6_TOGO],
      yMin: -0.025, yMax: 0.015, yTicks: Y_TICKS_PROD_M6, dec: 3,
      axisW: 47, padRight: 30, padTop: 45, xH: 72,
      legendX: RIGHT_LEGEND_X, legendY: [282, 300.5], sampleX: RIGHT_SAMPLE_X,
    },
  },
];

function Panel({ left, top, cfg }: { left: number; top: number; cfg: PanelCfg }) {
  const ref = useRef<HTMLCanvasElement>(null);
  useEffect(() => {
    if (!ref.current) return;
    const chart = new Chart(ref.current, buildConfig(cfg));
    return () => chart.destroy();
  }, [cfg]);
  return (
    <canvas
      ref={ref}
      width={482}
      height={312}
      style={{ position: 'absolute', left, top, width: 482, height: 312, display: 'block' }}
    />
  );
}

export default function App() {
  return (
    <div style={{ position: 'absolute', left: 0, top: 0, width: 964, height: 624, background: '#ffffff', overflow: 'hidden' }}>
      <div style={{ position: 'absolute', left: 7, top: 9, width: 957, height: 4, background: '#a3a3a3' }} />
      {PANELS.map((p, i) => (
        <Panel key={i} left={p.left} top={p.top} cfg={p.cfg} />
      ))}
    </div>
  );
}
